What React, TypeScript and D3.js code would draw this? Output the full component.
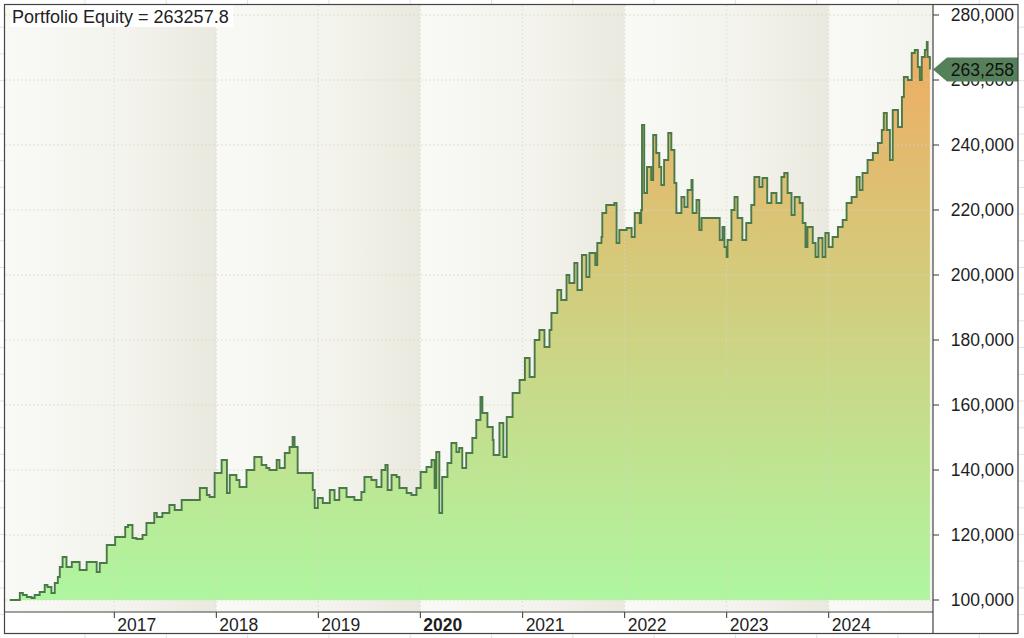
import React, { useMemo } from "react";
import * as d3 from "d3";

const WIDTH = 1024;
const HEIGHT = 638;
const PLOT = { left: 5, right: 933, top: 5, bottom: 612 };
const FRAME = { left: 4.5, right: 1018, top: 4.5, bottom: 633.5 };
const FONT = '"Liberation Sans", Arial, Helvetica, sans-serif';

const title = "Portfolio Equity = 263257.8";
const lastLabel = "263,258";

const dates = [
  "2015-12-24", "2016-01-22", "2016-01-29", "2016-02-09", "2016-02-23", "2016-03-11", "2016-03-22", "2016-04-09",
  "2016-04-27", "2016-05-07", "2016-05-21", "2016-06-02", "2016-06-13", "2016-06-20", "2016-06-30", "2016-07-14",
  "2016-08-02", "2016-08-30", "2016-09-24",
  "2016-10-30", "2016-11-10", "2016-12-05", "2017-01-04", "2017-02-09", "2017-02-19", "2017-03-07", "2017-03-21",
  "2017-04-12", "2017-04-26", "2017-05-24", "2017-06-02", "2017-06-22", "2017-07-17", "2017-08-05", "2017-08-30",
  "2017-09-27", "2017-11-03", "2017-11-28", "2017-12-08", "2017-12-26", "2018-01-20", "2018-02-08", "2018-02-18",
  "2018-03-14", "2018-03-25", "2018-04-19", "2018-05-17", "2018-06-12", "2018-06-29", "2018-07-10", "2018-08-05",
  "2018-08-15", "2018-09-03", "2018-09-20", "2018-10-01", "2018-10-08", "2018-10-19", "2018-12-01", "2018-12-12",
  "2018-12-19", "2018-12-30", "2019-01-17", "2019-02-11", "2019-02-28", "2019-03-17", "2019-04-12", "2019-05-10",
  "2019-06-04", "2019-06-15", "2019-07-10", "2019-07-28", "2019-08-15", "2019-08-29", "2019-09-06", "2019-09-20",
  "2019-10-08", "2019-10-18", "2019-11-13", "2019-11-30", "2019-12-18", "2020-01-02", "2020-01-23", "2020-02-10",
  "2020-02-21", "2020-02-27", "2020-03-09", "2020-03-19", "2020-04-07", "2020-04-21", "2020-05-09", "2020-05-19",
  "2020-05-30", "2020-06-13", "2020-07-05", "2020-07-19", "2020-08-03", "2020-08-10", "2020-08-28", "2020-09-16",
  "2020-09-19", "2020-10-10", "2020-10-24", "2020-11-05", "2020-11-26", "2020-12-21", "2021-01-09", "2021-01-26",
  "2021-02-13", "2021-03-02", "2021-03-20", "2021-04-07", "2021-04-14", "2021-05-05", "2021-05-19", "2021-06-07",
  "2021-06-17", "2021-07-05", "2021-07-16", "2021-08-01", "2021-08-17", "2021-08-28", "2021-09-18", "2021-09-25",
  "2021-10-10", "2021-10-13", "2021-10-27", "2021-11-25", "2021-12-03", "2021-12-13", "2022-01-08", "2022-01-26",
  "2022-02-06", "2022-02-24", "2022-03-01", "2022-03-04", "2022-03-12", "2022-03-22", "2022-04-06", "2022-04-13",
  "2022-04-24", "2022-05-05", "2022-05-12", "2022-05-22", "2022-06-06", "2022-06-17", "2022-06-28", "2022-07-05",
  "2022-07-23", "2022-08-03", "2022-08-14", "2022-08-28", "2022-09-01", "2022-09-15", "2022-09-25", "2022-10-03",
  "2022-11-30", "2022-12-07", "2022-12-17", "2022-12-24", "2023-01-01", "2023-01-04", "2023-01-18", "2023-01-29",
  "2023-02-09", "2023-02-26", "2023-03-12", "2023-03-30", "2023-04-10", "2023-04-28", "2023-05-09", "2023-05-26",
  "2023-06-10", "2023-06-28", "2023-07-16", "2023-07-26", "2023-08-07", "2023-08-21", "2023-09-01", "2023-09-19",
  "2023-09-30", "2023-10-10", "2023-10-17", "2023-11-05", "2023-11-15", "2023-11-25", "2023-12-10", "2023-12-20",
  "2024-01-01", "2024-01-15", "2024-02-03", "2024-02-20", "2024-03-05", "2024-03-23", "2024-04-10", "2024-04-21",
  "2024-05-01", "2024-05-19", "2024-06-07", "2024-06-25", "2024-07-09", "2024-07-16", "2024-07-27", "2024-08-07",
  "2024-08-17", "2024-09-05", "2024-09-19", "2024-09-26", "2024-10-10", "2024-10-24", "2024-11-04", "2024-11-15",
  "2024-11-22", "2024-11-29", "2024-12-10", "2024-12-17", "2024-12-20", "2024-12-28",
];

const equity = [
  100000, 100000, 102150, 101540, 100920, 100620, 101540, 102460,
  104620, 104000, 102150, 105230, 107080, 110150, 113230, 110150,
  111690, 109230, 111690,
  108620, 111380, 116920, 119380, 122460, 123080, 119080, 118770,
  120000, 123690, 126770, 125540, 126770, 129230, 127690, 130770,
  130770, 134460, 132310, 131690, 139080, 143080, 132920, 138460,
  136920, 134770, 140000, 144000, 141540, 140620, 140000, 143080,
  140620, 145230, 147080, 150150, 147080, 139080, 139080, 133850,
  128310, 131380, 129850, 133850, 130770, 134460, 131690, 130770,
  133230, 137850, 136920, 134770, 140000, 141540, 133850, 138460,
  137850, 134460, 132920, 132310, 134460, 139380, 140920, 143080,
  134460, 145540, 126770, 137850, 142150, 148310, 145540, 146770,
  140620, 145230, 149850, 155380, 162460, 157540, 153230, 149230,
  144620, 154460, 144000, 156310, 163690, 167690, 174460, 168620,
  180000, 183080, 177850, 183080, 188310, 195380, 192310, 200000,
  197540, 203690, 195380, 206150, 199380, 206770, 203080, 209850,
  211690, 219080, 221540, 222150, 209850, 213850, 214460, 211690,
  219080, 216000, 220000, 246150, 225230, 233230, 229230, 243080,
  237540, 233230, 227690, 235380, 243690, 238460, 228310, 219080,
  224000, 220920, 226150, 229230, 219080, 223080, 213850, 217540,
  217540, 210770, 214770, 208620, 205540, 210770, 220000, 224000,
  217540, 210770, 216000, 221540, 230150, 227080, 229850, 222150,
  225230, 222150, 230150, 231380, 225230, 218460, 224000, 222150,
  216000, 208620, 214770, 209850, 205540, 211380, 205540, 212920,
  208620, 211690, 214770, 216920, 222150, 224000, 230150, 226150,
  231380, 235380, 237540, 240620, 244620, 249850, 244620, 235380,
  250770, 245540, 254770, 260920, 260000, 268310, 269230, 264000,
  260000, 267080, 269230, 271690, 267080, 263258,
];

const yTicks = [100000, 120000, 140000, 160000, 180000, 200000, 220000, 240000, 260000, 280000];
const bandYears = [2016, 2017, 2018, 2019, 2020, 2021, 2022, 2023, 2024];
const yearLabels = ["2017", "2018", "2019", "2020", "2021", "2022", "2023", "2024"];
const boldYear = "2020";

const parseDate = d3.utcParse("%Y-%m-%d");
const yearStart = (y: number) => new Date(Date.UTC(y, 0, 1));

export default function App() {
  const data = useMemo(
    () => dates.map((d, i) => ({ date: parseDate(d) as Date, value: equity[i] })),
    []
  );

  const xScale = useMemo(
    () => d3.scaleUtc().domain([yearStart(2016), yearStart(2025)]).range([12, 931]),
    []
  );
  const yScale = useMemo(
    () => d3.scaleLinear().domain([100000, 280000]).range([600, 15]),
    []
  );

  const linePath = d3
    .line<{ date: Date; value: number }>()
    .x((d) => xScale(d.date))
    .y((d) => yScale(d.value))
    .curve(d3.curveStepAfter)(data);

  const areaPath = d3
    .area<{ date: Date; value: number }>()
    .x((d) => xScale(d.date))
    .y0(yScale(100000))
    .y1((d) => yScale(d.value))
    .curve(d3.curveStepAfter)(data);

  const maxVal = d3.max(equity) as number;
  const lastY = yScale(equity[equity.length - 1]);

  // faint spreadsheet cells behind the chart
  const sheetCols = d3.range(0, 13).map((i) => 85 + i * 81.3);
  const sheetRows = d3.range(1, 24).map((i) => 0.5 + i * 26.7);

  const bands = bandYears.map((yr, i) => {
    const x0 = i === 0 ? PLOT.left : xScale(yearStart(yr));
    const x1 = i === bandYears.length - 1 ? PLOT.right : xScale(yearStart(yr + 1));
    return (
      <rect
        key={yr}
        x={x0}
        y={PLOT.top}
        width={x1 - x0}
        height={PLOT.bottom - PLOT.top}
        fill={i % 2 === 0 ? "url(#bandLight)" : "url(#bandDark)"}
      />
    );
  });

  const grid = (
    <g stroke="#d6d4c0" strokeOpacity={0.65} strokeDasharray="2 2" strokeWidth={1}>
      {yTicks.map((v) => (
        <line key={v} x1={PLOT.left} x2={PLOT.right} y1={yScale(v)} y2={yScale(v)} />
      ))}
      {yearLabels.map((yl) => {
        const x = xScale(yearStart(+yl));
        return <line key={yl} x1={x} x2={x} y1={PLOT.top} y2={PLOT.bottom} />;
      })}
    </g>
  );

  return (
    <svg
      width={WIDTH}
      height={HEIGHT}
      style={{ position: "absolute", left: 0, top: 0, display: "block" }}
      fontFamily={FONT}
    >
      <defs>
        <linearGradient id="bandLight" x1="0" x2="1" y1="0" y2="0">
          <stop offset="0" stopColor="#f9f9f6" />
          <stop offset="1" stopColor="#f4f4ee" />
        </linearGradient>
        <linearGradient id="bandDark" x1="0" x2="1" y1="0" y2="0">
          <stop offset="0" stopColor="#f5f5ef" />
          <stop offset="1" stopColor="#eae9df" />
        </linearGradient>
        <linearGradient
          id="fillGrad"
          gradientUnits="userSpaceOnUse"
          x1="0"
          x2="0"
          y1={yScale(maxVal)}
          y2={yScale(100000)}
        >
          <stop offset="0" stopColor="#efac62" />
          <stop offset="1" stopColor="#aff6a0" />
        </linearGradient>
        <clipPath id="plotClip">
          <rect x={PLOT.left} y={PLOT.top} width={PLOT.right - PLOT.left} height={PLOT.bottom - PLOT.top} />
        </clipPath>
      </defs>

      <rect width={WIDTH} height={HEIGHT} fill="#ffffff" />
      <g stroke="#e2e2e2" strokeWidth={1}>
        {sheetCols.map((x, i) => (
          <line key={"c" + i} x1={x} x2={x} y1={0} y2={HEIGHT} />
        ))}
        {sheetRows.map((y, i) => (
          <line key={"r" + i} x1={0} x2={WIDTH} y1={y} y2={y} />
        ))}
      </g>

      <rect
        x={FRAME.left}
        y={FRAME.top}
        width={FRAME.right - FRAME.left}
        height={FRAME.bottom - FRAME.top}
        fill="#ffffff"
      />

      <g clipPath="url(#plotClip)">
        {bands}
        <path d={areaPath || ""} fill="url(#fillGrad)" />
        {grid}
        <path d={linePath || ""} fill="none" stroke="#4a7a4a" strokeWidth={1.9} strokeLinejoin="miter" />
      </g>

      {/* title */}
      <rect x={10} y={5} width={223} height={22} fill="#ffffff" />
      <text x={12} y={23} fontSize={18} fill="#222222">
        {title}
      </text>

      {/* x axis */}
      {yearLabels.map((yl) => {
        const x = xScale(yearStart(+yl));
        return (
          <g key={yl}>
            <line x1={x} x2={x} y1={PLOT.bottom} y2={PLOT.bottom + 6} stroke="#333333" />
            <text
              x={x + 3}
              y={630.5}
              fontSize={17.5}
              fill="#1e1e1e"
              fontWeight={yl === boldYear ? "bold" : "normal"}
            >
              {yl}
            </text>
          </g>
        );
      })}

      {/* y axis */}
      {yTicks.map((v) => (
        <g key={v}>
          <line x1={PLOT.right} x2={PLOT.right + 6} y1={yScale(v)} y2={yScale(v)} stroke="#333333" />
          <text
            x={1014}
            y={yScale(v)}
            dy="0.36em"
            textAnchor="end"
            fontSize={17.5}
            fill="#1e1e1e"
          >
            {d3.format(",")(v)}
          </text>
        </g>
      ))}

      {/* last value tag */}
      <path
        d={`M${PLOT.right},${lastY} L${PLOT.right + 14},${lastY - 12} L${FRAME.right},${lastY - 12} L${FRAME.right},${lastY + 12} L${PLOT.right + 14},${lastY + 12} Z`}
        fill="#56805a"
      />
      <text x={1014} y={lastY} dy="0.36em" textAnchor="end" fontSize={17.5} fill="#111111">
        {lastLabel}
      </text>

      {/* frame */}
      <g stroke="#444444" fill="none" strokeWidth={1.2}>
        <rect
          x={FRAME.left}
          y={FRAME.top}
          width={FRAME.right - FRAME.left}
          height={FRAME.bottom - FRAME.top}
        />
        <line x1={FRAME.left} x2={PLOT.right} y1={PLOT.bottom} y2={PLOT.bottom} />
        <line x1={PLOT.right} x2={PLOT.right} y1={FRAME.top} y2={FRAME.bottom} />
      </g>
    </svg>
  );
}
